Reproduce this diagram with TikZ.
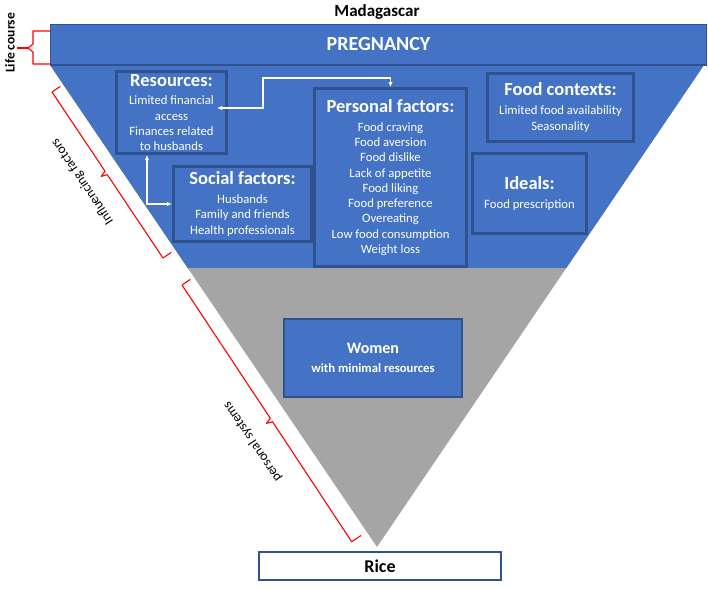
\documentclass[tikz,border=0pt]{standalone}
\usepackage{fontspec}
\setmainfont{Carlito}
\usepackage{tikz}
\usetikzlibrary{calc,arrows.meta}
\definecolor{pblue}{HTML}{4472C4}
\definecolor{dblue}{HTML}{2F528F}
\definecolor{pgray}{HTML}{A5A5A5}
\newcommand{\boxhead}[1]{{\fontsize{18.5}{18.5}\selectfont\bfseries #1}\\[3.5pt]}

\begin{document}
\begin{tikzpicture}[x=1pt,y=-1pt,
		box/.style={draw=dblue,line width=2.6pt,fill=pblue,text=white,align=center,inner sep=0pt,font=\fontsize{12.7}{15.3}\selectfont},
		link/.style={white,line width=1.2pt,{Latex[length=5pt,width=4.5pt]}-{Latex[length=5pt,width=4.5pt]}},
		brk/.style={red,line width=1.1pt,line join=round},
		side/.style={font=\fontsize{13.5}{14}\selectfont,rotate=124}]
			\useasboundingbox (0,0) rectangle (708,589);
			\coordinate (L) at (50,65);
			\coordinate (R) at (704,65);
			\coordinate (V) at (377,547);
			\coordinate (P) at ($(L)!0.421!(V)$);
			\coordinate (Q) at ($(R)!0.421!(V)$);
			\fill[pgray] (L)--(R)--(V)--cycle;
			\fill[pblue] (L)--(R)--(Q)--(P)--cycle;
			\node[fill=pblue,draw=dblue,line width=0.8pt,minimum width=656pt,minimum height=40pt,inner sep=0pt,text=white,font=\fontsize{20}{20}\selectfont\bfseries] (preg) at (378.5,44.5) {PREGNANCY};
			\draw[dblue,line width=2pt] (preg.south west)--(preg.south east);
			\node[font=\fontsize{17}{17}\selectfont\bfseries] (mad) at (377,12) {Madagascar};
			\node[box,minimum width=110.4pt,minimum height=82.4pt] (res) at (171.5,112.5) {\boxhead{Resources:}Limited financial\\access\\Finances related\\to husbands};
			\node[box,minimum width=138.4pt,minimum height=75.4pt] (soc) at (242.5,204) {\boxhead{Social factors:}Husbands\\Family and friends\\Health professionals};
			\node[box,minimum width=152.4pt,minimum height=178.4pt] (pers) at (390.5,177.5) {\boxhead{Personal factors:}Food craving\\Food aversion\\Food dislike\\Lack of appetite\\Food liking\\Food preference\\Overeating\\Low food consumption\\Weight loss};
			\node[box,minimum width=146.4pt,minimum height=68.4pt] (ctx) at (560.5,107.5) {\boxhead{Food contexts:}Limited food availability\\Seasonality};
			\node[box,minimum width=114.4pt,minimum height=80.4pt] (ideal) at (529.5,193.5) {\boxhead{Ideals:}Food prescription};
			\node[box,line width=2pt,minimum width=178pt,minimum height=78pt,font=\fontsize{12.7}{15.3}\selectfont\bfseries] (women) at (373,358) {{\fontsize{16}{16}\selectfont Women}\\[4pt]with minimal resources};
			\node[draw=dblue,line width=1.8pt,fill=white,minimum width=242pt,minimum height=28pt,inner sep=0pt,font=\fontsize{18}{18}\selectfont\bfseries] (rice) at (380,566) {Rice};
			\coordinate (K) at (263,78);
			\coordinate (E) at ([xshift=-11pt,yshift=4.5pt]res.east);
			\draw[link] (pers.north) |- (K) |- (E);
			\draw[link] ([xshift=-24.5pt]res.south) |- (soc.west);
			\draw[brk] (50,31)--(33,31)--(33,44)--(28,48)--(33,52)--(33,64)--(50,64);
			\draw[brk] (28,48)--(17,48);
			\node[rotate=90,font=\fontsize{13.5}{14}\selectfont\bfseries] (life) at (10,43) {Life course};
			\draw[brk] (60.3,86.4)--(52,92)--(105.1,171.3)--(101.2,176.4)--(107.3,174.7)--(163,258)--(171.3,252.4);
			\node[side] (infl) at (82.5,181.5) {Influencing factors};
			\draw[brk] (190.3,279.4)--(182,285)--(270.3,418.3)--(266.4,423.4)--(272.5,421.7)--(351.7,541.7)--(361,535.5);
			\node[side] (psys) at (252.5,441.7) {personal systems};
		\end{tikzpicture}
\end{document}
